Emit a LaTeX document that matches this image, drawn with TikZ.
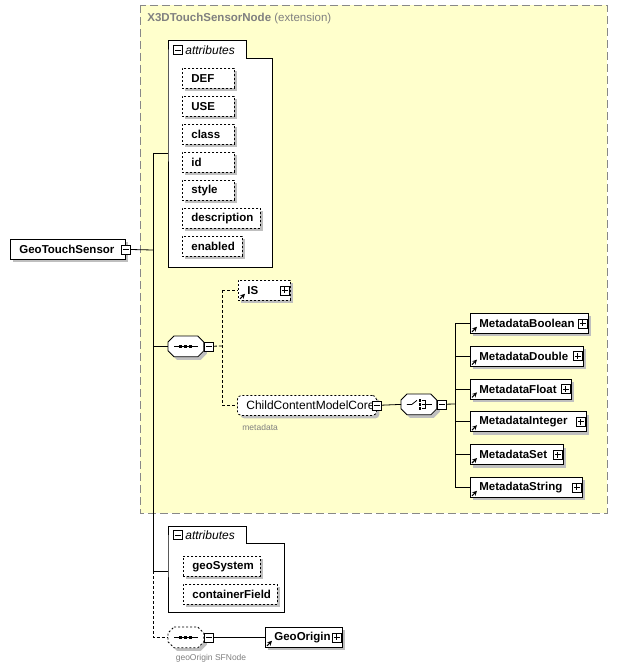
\documentclass[tikz,border=0pt]{standalone}
\usepackage{fontspec}
\setmainfont{Liberation Sans}
\usetikzlibrary{shadows}
\definecolor{extfill}{RGB}{255,255,204}
\definecolor{extline}{RGB}{136,136,136}
\definecolor{hint}{RGB}{128,128,128}
\hyphenpenalty=10000
\begin{document}
\begin{tikzpicture}[x=1pt, y=-1pt, line width=0.8pt,
  shade/.style={drop shadow={shadow xshift=3pt, shadow yshift=-3pt, fill=black!25, opacity=1}},
  elem/.style={draw, fill=white, shade, anchor=north west, minimum height=20pt, inner xsep=9pt, inner ysep=0pt, align=left, font=\fontsize{11.5}{13}\selectfont\bfseries},
  attr/.style={elem, dash pattern=on 2pt off 2pt},
  dotted link/.style={dash pattern=on 3pt off 2pt},
  compositor/.style={anchor=north west, minimum width=35pt, minimum height=20pt, inner sep=0pt},
  hint/.style={text=hint, inner sep=0pt, font=\fontsize{8.5}{10}\selectfont},
  refarrow/.style={->, >=stealth, line width=1.1pt},
  pbox/.pic={\draw[fill=white, solid] (-4.5,-4.5) rectangle (4.5,4.5); \draw[solid] (-3,0) -- (3,0) (0,-3) -- (0,3);},
  mbox/.pic={\draw[fill=white, solid] (-4.5,-4.5) rectangle (4.5,4.5); \draw[solid] (-3,0) -- (3,0);}
]
\newcommand{\compositorshape}[2][]{\draw[fill=white, shade, #1] ([xshift=6pt]#2.north west) -- ([xshift=-6pt]#2.north east) -- ([yshift=-6pt]#2.north east) -- ([yshift=6pt]#2.south east) -- ([xshift=-6pt]#2.south east) -- ([xshift=6pt]#2.south west) -- ([yshift=6pt]#2.south west) -- ([yshift=-6pt]#2.north west) -- cycle;}
\useasboundingbox (0,0) rectangle (617,671);

% extension frame
\draw[extline, fill=extfill, dash pattern=on 8pt off 4pt] (140,5) rectangle (607,513);
\node[anchor=west, inner sep=0pt, text=hint, font=\fontsize{11.5}{13}\selectfont] (exttitle) at (147,19) {\textbf{X3DTouchSensorNode} (extension)};

% root element
\node[elem, text width=97pt] (geo) at (10,239) {GeoTouchSensor};
\coordinate (trunk) at (153,250);

% first attribute group
\draw[fill=white] (168,58) |- (246,40) |- (272,58) |- (168,267) -- cycle;
\pic at (178,50) {mbox};
\node[anchor=west, inner sep=0pt, font=\fontsize{12}{14}\selectfont\itshape] (attrA) at (185,50) {attributes};
\coordinate (grpA) at (168,153);
\foreach \a/\w [count=\i from 0, evaluate=\w as \tw using \w-18] in {DEF/52, USE/52, class/52, id/52, style/52, description/78, enabled/60}
  \node[attr, text width=\tw pt] (a\a) at (182,68+28*\i) {\a};

% sequence with IS and ChildContentModelCore
\node[compositor] (seq) at (168,336) {};
\compositorshape{seq}
\draw ([xshift=6pt]seq.west) -- ([xshift=-6pt]seq.east);
\foreach \d in {-5,0,5}
  \fill ([xshift=\d pt]seq.center) +(-1.5,-1.5) rectangle +(1.5,1.5);
\coordinate (split) at (222,346);

\node[attr, text width=34pt] (IS) at (238,280) {IS};
\node[elem, dash pattern=on 2pt off 2pt, rounded corners=4pt, text width=121pt, font=\fontsize{12}{14}\selectfont] (ccmc) at (237,395) {ChildContentModelCore};
\node[hint, anchor=west] (ccmcnote) at (242,427) {metadata};

% choice of metadata nodes
\node[compositor] (choice) at (401,394) {};
\compositorshape{choice}
\draw ([xshift=-12pt]choice.center) -- ++(5,0) -- ++(5,-4);
\foreach \d in {-4,0,4}
  \fill ([xshift=1pt]choice.center) ++(0,\d) +(-1.3,-1.3) rectangle +(1.3,1.3);
\draw ([xshift=3pt]choice.center) ++(0,-4) -- ++(3,0) -- ++(0,8) -- ++(-3,0);
\draw ([xshift=3pt]choice.center) -- ([xshift=-5pt]choice.east);
\coordinate (rail) at (455,404);

\foreach \m/\w [count=\i from 0, evaluate=\w as \tw using \w-18] in {Boolean/118, Double/113, Float/101, Integer/116, Set/93, String/112} {
  \node[elem, text width=\tw pt] (md\m) at (470,313+32.8*\i) {Metadata\m};
  \draw (rail |- md\m.west) -- (md\m.west);
  \pic at ([xshift=-6pt]md\m.east) {pbox};
  \draw[refarrow] ([xshift=2pt, yshift=2pt]md\m.south west) -- ++(5,-5);
}
\draw (rail |- mdBoolean.west) -- (rail |- mdString.west);

% second attribute group
\draw[fill=white] (168,543) |- (246,526) |- (284,543) |- (168,612) -- cycle;
\pic at (178,535) {mbox};
\node[anchor=west, inner sep=0pt, font=\fontsize{12}{14}\selectfont\itshape] (attrB) at (185,535) {attributes};
\coordinate (grpB) at (168,571);
\node[attr, text width=59pt] (geoSystem) at (183,556) {geoSystem};
\node[attr, text width=76pt] (containerField) at (183,584) {containerField};

% optional geoOrigin sequence
\node[compositor] (oseq) at (168,627) {};
\compositorshape[dash pattern=on 2pt off 2pt]{oseq}
\draw ([xshift=6pt]oseq.west) -- ([xshift=-6pt]oseq.east);
\foreach \d in {-5,0,5}
  \fill ([xshift=\d pt]oseq.center) +(-1.5,-1.5) rectangle +(1.5,1.5);
\node[hint] (oseqnote) at (211,658) {geoOrigin SFNode};
\node[elem, text width=59pt] (GeoOrigin) at (265,627) {GeoOrigin};

% connectors
\draw (geo.east) -- (trunk);
\draw (trunk |- grpA) -- (trunk |- grpB);
\draw (trunk |- grpA) -- (grpA);
\draw (trunk |- seq.west) -- (seq.west);
\draw (trunk |- grpB) -- (grpB);
\draw[dotted link] (trunk |- grpB) -- (trunk |- oseq.west) -- (oseq.west);
\draw[dotted link] (seq.east) -- (split);
\draw[dotted link] (split |- IS.west) -- (split |- ccmc.west);
\draw[dotted link] (split |- IS.west) -- (IS.west);
\draw[dotted link] (split |- ccmc.west) -- (ccmc.west);
\draw (ccmc.east) -- (choice.west);
\draw (choice.east) -- (rail);
\draw (oseq.east) -- (GeoOrigin.west);

% expand / collapse boxes and reference arrows
\pic at (geo.east) {mbox};
\pic at ([xshift=5pt]seq.east) {mbox};
\pic at (ccmc.east) {mbox};
\pic at ([xshift=5pt]choice.east) {mbox};
\pic at ([xshift=5pt]oseq.east) {mbox};
\pic at ([xshift=-6pt]IS.east) {pbox};
\pic at ([xshift=-6pt]GeoOrigin.east) {pbox};
\draw[refarrow] ([xshift=2pt, yshift=2pt]IS.south west) -- ++(5,-5);
\draw[refarrow] ([xshift=2pt, yshift=2pt]GeoOrigin.south west) -- ++(5,-5);
\end{tikzpicture}
\end{document}
